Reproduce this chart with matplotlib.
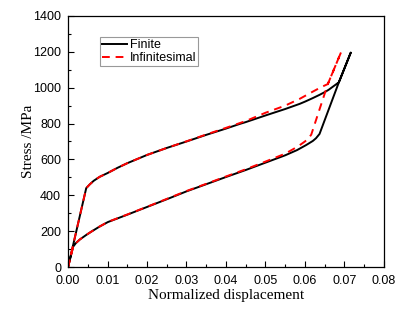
import matplotlib.pyplot as plt
from matplotlib.ticker import MultipleLocator

# finite strain: loading branch then unloading branch
fin_load_x = [0, 0.0046, 0.0055, 0.0065, 0.008, 0.01, 0.0125, 0.015, 0.02, 0.025, 0.03, 0.035, 0.04,
              0.0435, 0.045, 0.05, 0.0511, 0.055, 0.0587, 0.06, 0.062, 0.0637, 0.065, 0.066, 0.0686, 0.0716]
fin_load_y = [0, 440, 461, 481, 503, 524, 553, 579, 625, 664, 700, 737, 772,
              798, 808, 845, 853, 881, 910, 922, 942, 960, 975, 988, 1030, 1195]
fin_unload_x = [0.0716, 0.0686, 0.0637, 0.0628, 0.062, 0.0603, 0.058, 0.055, 0.05, 0.045, 0.04, 0.035,
                0.03, 0.025, 0.02, 0.015, 0.0101, 0.008, 0.006, 0.0046, 0.003, 0.002, 0.0013, 0]
fin_unload_y = [1195, 1030, 742, 718, 703, 680, 652, 623, 582, 541, 502, 462,
                422, 378, 335, 292, 251, 226, 199, 179, 154, 134, 114, 0]

# infinitesimal strain
inf_load_x = [0, 0.0046, 0.0055, 0.0065, 0.008, 0.01, 0.0125, 0.015, 0.02, 0.025, 0.03, 0.035, 0.04,
              0.045, 0.05, 0.055, 0.0587, 0.062, 0.0637, 0.065, 0.0658, 0.0692]
inf_load_y = [0, 440, 461, 481, 503, 524, 553, 579, 625, 664, 701, 739, 776,
              814, 860, 900, 938, 978, 998, 1012, 1020, 1200]
inf_unload_x = [0.0692, 0.0658, 0.0616, 0.0608, 0.06, 0.0582, 0.055, 0.05, 0.045, 0.04, 0.035,
                0.03, 0.025, 0.02, 0.015, 0.0101, 0.008, 0.006, 0.0046, 0.003, 0.002, 0.0013, 0]
inf_unload_y = [1200, 1020, 738, 715, 700, 672, 632, 588, 545, 505, 464,
                424, 380, 336, 293, 252, 226, 199, 179, 154, 134, 114, 0]

fig = plt.figure(figsize=(4.15, 3.12), dpi=100)
ax = fig.add_axes([0.164, 0.144, 0.761, 0.805])

ax.plot(fin_load_x + fin_unload_x, fin_load_y + fin_unload_y, color='black', lw=1.4, label='Finite')
ax.plot(inf_load_x + inf_unload_x, inf_load_y + inf_unload_y, color='red', lw=1.4,
        ls=(0, (4, 3)), label='Infinitesimal')

ax.set_xlim(0, 0.08)
ax.set_ylim(0, 1400)
ax.xaxis.set_major_locator(MultipleLocator(0.01))
ax.xaxis.set_minor_locator(MultipleLocator(0.005))
ax.yaxis.set_major_locator(MultipleLocator(200))
ax.yaxis.set_minor_locator(MultipleLocator(100))
ax.xaxis.set_major_formatter(plt.FuncFormatter(lambda v, p: f'{v:.2f}'))
ax.tick_params(which='both', direction='in', top=False, right=False, labelsize=9)
ax.tick_params(which='major', length=4.5, width=0.8)
ax.tick_params(which='minor', length=2.5, width=0.8)
ax.tick_params(axis='x', which='major', pad=5.5)
ax.tick_params(axis='y', which='major', pad=5)
for lab in ax.get_xticklabels() + ax.get_yticklabels():
    lab.set_fontfamily('Liberation Sans')
for s in ax.spines.values():
    s.set_linewidth(0.9)

ax.set_xlabel('Normalized displacement', fontsize=11, family='Liberation Serif', labelpad=2)
ax.set_ylabel('Stress /MPa', fontsize=11, family='Liberation Serif', labelpad=-1)

leg = ax.legend(loc='upper left', bbox_to_anchor=(0.1, 0.915), fancybox=False, edgecolor='gray',
                prop={'family': 'Liberation Sans', 'size': 9}, handlelength=2.0,
                borderpad=0.15, labelspacing=0.1, handletextpad=0.25, borderaxespad=0)
leg.get_frame().set_linewidth(0.8)

fig.savefig('out.png', dpi=100)
